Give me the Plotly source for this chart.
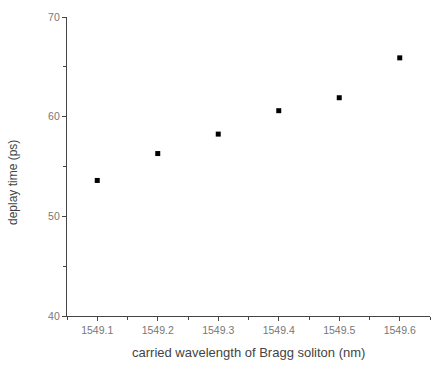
import plotly.graph_objects as go

wavelength = [1549.1, 1549.2, 1549.3, 1549.4, 1549.5, 1549.6]
delay = [53.6, 56.3, 58.25, 60.6, 61.9, 65.9]
x_ticks = [1549.1, 1549.2, 1549.3, 1549.4, 1549.5, 1549.6]
y_ticks = [40, 50, 60, 70]
x_title = "carried wavelength of Bragg soliton (nm)"
y_title = "deplay time (ps)"

fig = go.Figure()
fig.add_trace(go.Scatter(
    x=wavelength, y=delay, mode="markers",
    marker=dict(symbol="square", size=5, color="black"),
    showlegend=False,
))

axis_common = dict(
    showline=True, linecolor="#444", linewidth=1.2,
    ticks="outside", ticklen=4, tickcolor="#444", tickwidth=1,
    showgrid=False, zeroline=False, mirror=False,
    tickfont=dict(family="Liberation Sans, Arial", size=10.5, color="#777"),
)

fig.update_layout(
    width=431, height=365,
    margin=dict(l=67, r=1, t=17, b=49),
    paper_bgcolor="white", plot_bgcolor="white",
    xaxis=dict(
        range=[1549.05, 1549.65], tickvals=x_ticks,
        ticktext=[f"{v:.1f}" for v in x_ticks],
        minor=dict(ticks="outside", ticklen=3, tickcolor="#444", dtick=0.1, tick0=1549.05),
        **axis_common,
    ),
    yaxis=dict(
        range=[40, 70], tickvals=y_ticks,
        minor=dict(ticks="outside", ticklen=3, tickcolor="#444", dtick=5, tick0=45),
        **axis_common,
    ),
    annotations=[
        dict(text=x_title, xref="paper", yref="paper", x=(249 - 67) / 363, y=-(352 - 316) / 299,
             xanchor="center", yanchor="middle", showarrow=False,
             font=dict(family="Liberation Sans, Arial", size=13, color="#444")),
        dict(text=y_title, xref="paper", yref="paper", x=-(67 - 13) / 363, y=(316 - 183) / 299,
             xanchor="center", yanchor="middle", showarrow=False, textangle=-90,
             font=dict(family="Liberation Sans, Arial", size=12, color="#444")),
    ],
)

fig.write_html("out.html")
